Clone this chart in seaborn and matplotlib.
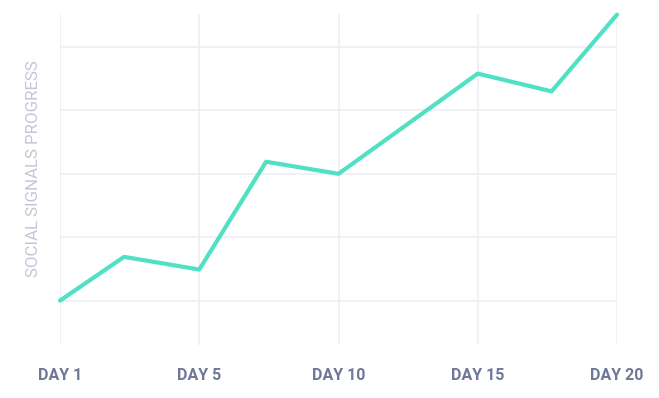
import pandas as pd
import matplotlib.pyplot as plt
import seaborn as sns

# Values (x in tick units, DAY 1 = 0 ... DAY 20 = 4)
positions = [0, 0.46, 1, 1.48, 2, 3, 3.53, 4]
progress = [10.0, 16.9, 14.9, 31.9, 30.0, 45.8, 43.0, 55.1]
tick_labels = ['DAY 1', 'DAY 5', 'DAY 10', 'DAY 15', 'DAY 20']
grid_values = [10, 20, 30, 40, 50]

df = pd.DataFrame({'pos': positions, 'progress': progress})

sns.set_style('white')
plt.rcParams['font.family'] = ['Roboto', 'DejaVu Sans']

fig = plt.figure(figsize=(6.59, 3.98), dpi=100)
ax = fig.add_axes([60 / 659, 1 - 345 / 398, (617 - 60) / 659, (345 - 14) / 398])

sns.lineplot(data=df, x='pos', y='progress', sort=False, color='#50e0c4',
             linewidth=3, ax=ax, clip_on=False, zorder=3)

ax.set_xlim(0, 4)
ax.set_ylim(3.0, 55.2)
ax.set_xticks(range(len(tick_labels)))
ax.set_xticklabels(tick_labels, fontsize=11.5, fontweight='bold', color='#6f7898')
ax.set_yticks(grid_values)
ax.set_yticklabels([])
ax.tick_params(axis='both', length=0)
ax.tick_params(axis='x', pad=16.5)

ax.grid(True, color='#eeeef5', linewidth=1.2)
for s in ax.spines.values():
    s.set_visible(False)

ax.set_xlabel('')
ax.set_ylabel('SOCIAL SIGNALS PROGRESS', fontsize=12.2, color='#c4c6d6', labelpad=0)
ax.yaxis.set_label_coords(-19 / 557, (345 - 169) / 331)

plt.savefig('out.png', dpi=100)
